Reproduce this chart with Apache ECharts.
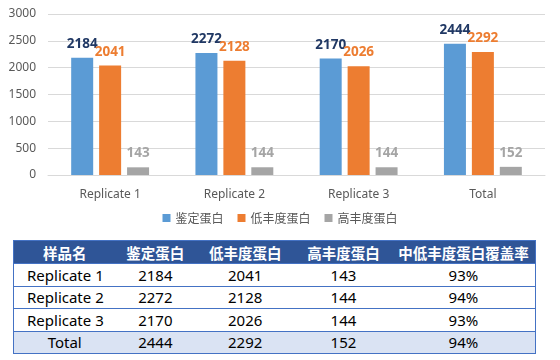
<!DOCTYPE html>
<html><head><meta charset="utf-8">
<script src="https://cdn.jsdelivr.net/npm/echarts@6/dist/echarts.min.js"></script>
<style>
html,body{margin:0;padding:0;background:#fff;}
#wrap{position:relative;width:560px;height:360px;overflow:hidden;}
#chart{position:absolute;left:0;top:0;width:560px;height:235px;}
#tbl{position:absolute;left:13px;top:240px;width:523px;border-collapse:collapse;border:1.5px solid #4472c4;font-family:"Noto Sans","Noto Sans CJK SC",sans-serif;font-size:15px;color:#000;}
#tbl th{background:#2f5597;color:#fff;font-weight:bold;font-size:14.5px;height:22px;padding:0;text-align:center;font-family:"Noto Sans CJK SC",sans-serif;}
#tbl td{height:21.5px;padding:0;text-align:center;border-top:1.5px solid #4472c4;line-height:20px;}
#tbl td.name{text-align:left;padding-left:13px;}
#tbl tr.total td{background:#dae3f3;}
#tbl tr.total td.name{text-align:center;padding-left:0;}
</style></head>
<body><div id="wrap"><div id="chart"></div><table id="tbl"></table></div>
<script>
const categories = ['Replicate 1','Replicate 2','Replicate 3','Total'];
const seriesNames = ['鉴定蛋白','低丰度蛋白','高丰度蛋白'];
const identified = [2184,2272,2170,2444];
const lowAbundance = [2041,2128,2026,2292];
const highAbundance = [143,144,144,152];
const coverage = ['93%','94%','93%','94%'];
const tableHeaders = ['样品名','鉴定蛋白','低丰度蛋白','高丰度蛋白','中低丰度蛋白覆盖率'];
const yTicks = {min:0,max:3000,interval:500};

const colors = ['#5b9bd5','#ed7d31','#a5a5a5'];
const labelColors = ['#203864','#ed7d31','#a5a5a5'];
const values = [identified, lowAbundance, highAbundance];

const chart = echarts.init(document.getElementById('chart'), null, {renderer:'canvas'});
chart.setOption({
  animation:false,
  textStyle:{fontFamily:'"Noto Sans","Noto Sans CJK SC",sans-serif'},
  grid:{left:48,right:15,top:14,height:161},
  legend:{bottom:6,left:'center',itemWidth:8,itemHeight:8,itemGap:14,icon:'rect',
    textStyle:{color:'#595959',fontSize:12,fontFamily:'"Noto Sans CJK SC",sans-serif'},data:seriesNames},
  xAxis:{type:'category',data:categories,
    axisLine:{lineStyle:{color:'#d9d9d9'}},axisTick:{show:false},
    axisLabel:{color:'#595959',fontSize:12,margin:14}},
  yAxis:{type:'value',min:yTicks.min,max:yTicks.max,interval:yTicks.interval,
    axisLine:{show:false},axisTick:{show:false},
    splitLine:{lineStyle:{color:'#d9d9d9'}},
    axisLabel:{color:'#595959',fontSize:12,margin:12,formatter:v=>String(v)}},
  series: seriesNames.map((n,i)=>({
    name:n,type:'bar',data:values[i],barWidth:22,barGap:'27%',
    itemStyle:{color:colors[i]},
    label:{show:true,position:'top',distance:7,color:labelColors[i],fontWeight:'bold',fontSize:13.5}
  }))
});

const tbl = document.getElementById('tbl');
let html = '<tr>'+tableHeaders.map(h=>'<th>'+h+'</th>').join('')+'</tr>';
categories.forEach((c,i)=>{
  html += '<tr'+(i===categories.length-1?' class="total"':'')+'><td class="name">'+c+'</td><td>'+identified[i]+'</td><td>'+lowAbundance[i]+'</td><td>'+highAbundance[i]+'</td><td>'+coverage[i]+'</td></tr>';
});
tbl.innerHTML = html;
const widths=[102,80,100,97,144];
const cols = document.createElement('colgroup');
cols.innerHTML = widths.map(w=>'<col style="width:'+w+'px">').join('');
tbl.insertBefore(cols, tbl.firstChild);
</script></body></html>
